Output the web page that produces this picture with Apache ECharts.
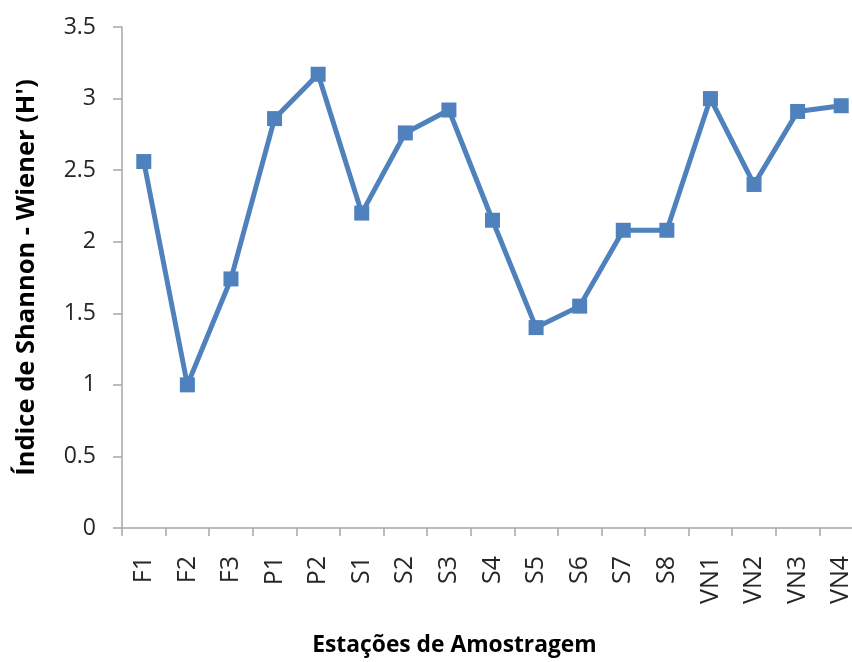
<!DOCTYPE html>
<html>
<head>
<meta charset="utf-8">
<script src="https://cdn.jsdelivr.net/npm/echarts@6/dist/echarts.min.js"></script>
<style>
html,body{margin:0;padding:0;background:#fff;overflow:hidden;width:852px;height:662px;}
#chart{width:863px;height:662px;}
</style>
</head>
<body>
<div id="chart"></div>
<script>
const categories = ['F1','F2','F3','P1','P2','S1','S2','S3','S4','S5','S6','S7','S8','VN1','VN2','VN3','VN4'];
const shannonValues = [2.56, 1.00, 1.74, 2.86, 3.17, 2.20, 2.76, 2.92, 2.15, 1.40, 1.55, 2.08, 2.08, 3.00, 2.40, 2.91, 2.95];
const xAxisTitle = 'Estações de Amostragem';
const yAxisTitle = "Índice de Shannon - Wiener (H')";
const yMin = 0, yMax = 3.5, yStep = 0.5;

const chart = echarts.init(document.getElementById('chart'), null, {renderer:'canvas'});
const FONT = '"Open Sans", "Noto Sans", sans-serif';
chart.setOption({
  animation: false,
  backgroundColor: '#ffffff',
  grid: { left: 122, top: 27, bottom: 134, right: 0, containLabel: false },
  xAxis: {
    type: 'category',
    data: categories,
    boundaryGap: true,
    name: xAxisTitle,
    nameLocation: 'middle',
    nameGap: 106,
    nameTextStyle: { fontFamily: FONT, fontWeight: 'bold', fontSize: 22.8, color: '#000', padding: [0, 76, 0, 0] },
    axisLine: { show: true, lineStyle: { color: '#A6A6A6', width: 1.5 } },
    axisTick: { show: true, length: 8, lineStyle: { color: '#A6A6A6', width: 1.5 } },
    axisLabel: { rotate: 90, margin: 28, fontFamily: FONT, fontSize: 25, color: '#262626' },
    splitLine: { show: false }
  },
  yAxis: {
    type: 'value',
    min: yMin, max: yMax, interval: yStep,
    name: yAxisTitle,
    nameLocation: 'middle',
    nameGap: 82,
    nameRotate: 90,
    nameTextStyle: { fontFamily: FONT, fontWeight: 'bold', fontSize: 25.5, color: '#000' },
    axisLine: { show: true, lineStyle: { color: '#A6A6A6', width: 1.5 } },
    axisTick: { show: true, length: 9, lineStyle: { color: '#A6A6A6', width: 1.5 } },
    axisLabel: { margin: 26, fontFamily: FONT, fontSize: 23, color: '#262626' },
    splitLine: { show: false }
  },
  series: [{
    type: 'line',
    data: shannonValues,
    symbol: 'rect',
    symbolSize: 15,
    showAllSymbol: true,
    lineStyle: { color: '#4F81BD', width: 5 },
    itemStyle: { color: '#4F81BD', borderWidth: 0 },
    smooth: false
  }]
});
</script>
</body>
</html>
